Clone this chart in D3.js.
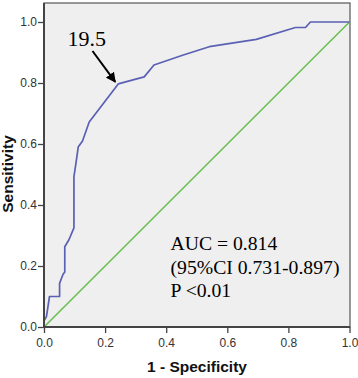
<!DOCTYPE html>
<html><head><meta charset="utf-8">
<script src="https://cdn.jsdelivr.net/npm/d3@7"></script>
<style>html,body{margin:0;padding:0;background:#fff;}svg{display:block;}</style>
</head><body>
<script>
// ROC curve vertices (1 - specificity, sensitivity)
const fpr = [0, 0, 0.008, 0.018, 0.051, 0.051, 0.062, 0.068, 0.068, 0.082, 0.098, 0.098, 0.105, 0.112, 0.126, 0.148, 0.243, 0.328, 0.36, 0.456, 0.541, 0.695, 0.823, 0.856, 0.872, 1.0];
const tpr = [0, 0.02, 0.034, 0.10, 0.10, 0.143, 0.172, 0.18, 0.263, 0.287, 0.325, 0.493, 0.54, 0.59, 0.61, 0.672, 0.797, 0.82, 0.859, 0.892, 0.919, 0.943, 0.982, 0.982, 1.0, 1.0];
const refX = [0, 1];
const refY = [0, 1];
const tickVals = [0, 0.2, 0.4, 0.6, 0.8, 1.0];
const cutoffLabel = "19.5";
const cutoffPoint = [0.243, 0.797];
const statLines = ["AUC = 0.814", "(95%CI 0.731-0.897)", "P <0.01"];

const W = 358, H = 378;
const svg = d3.select("body").append("svg").attr("width", W).attr("height", H);

const x = d3.scaleLinear().domain([0, 1]).range([44, 349.5]);
const y = d3.scaleLinear().domain([0, 1]).range([327, 22]);

// plot background + frame
svg.append("rect").attr("x", 44).attr("y", 3).attr("width", 306).attr("height", 324)
  .attr("fill", "#efefef").attr("stroke", "#555").attr("stroke-width", 1.2);

// diagonal
svg.append("path").datum(d3.zip(refX, refY))
  .attr("d", d3.line().x(d => x(d[0])).y(d => y(d[1])))
  .attr("fill", "none").attr("stroke", "#6dbf52").attr("stroke-width", 1.6);

// ROC curve
svg.append("path").datum(d3.zip(fpr, tpr))
  .attr("d", d3.line().x(d => x(d[0])).y(d => y(d[1])))
  .attr("fill", "none").attr("stroke", "#5a60b4").attr("stroke-width", 1.7)
  .attr("stroke-linejoin", "round");

// axes
const xAxis = d3.axisBottom(x).tickValues(tickVals).tickFormat(d3.format(".1f")).tickSize(6).tickSizeOuter(0);
const yAxis = d3.axisLeft(y).tickValues(tickVals).tickFormat(d3.format(".1f")).tickSize(6).tickSizeOuter(0);
const gx = svg.append("g").attr("transform", "translate(0,327)").call(xAxis);
const gy = svg.append("g").attr("transform", "translate(44,0)").call(yAxis);
[gx, gy].forEach(g => {
  g.select(".domain").remove();
  g.selectAll(".tick line").attr("stroke", "#444").attr("stroke-width", 1.3);
  g.selectAll(".tick text").attr("font-family", "Arial, 'Liberation Sans', sans-serif")
    .attr("font-size", 12).attr("fill", "#333");
});
gx.selectAll(".tick text").attr("dy", "0.9em");
gy.selectAll(".tick text").attr("x", -7);
// axis lines
svg.append("line").attr("x1", 44).attr("x2", 44).attr("y1", 3).attr("y2", 327).attr("stroke", "#444").attr("stroke-width", 2);
svg.append("line").attr("x1", 44).attr("x2", 350).attr("y1", 327).attr("y2", 327).attr("stroke", "#444").attr("stroke-width", 2);

// axis titles
svg.append("text").attr("x", 197).attr("y", 372).attr("text-anchor", "middle")
  .attr("font-family", "Arial, 'Liberation Sans', sans-serif").attr("font-weight", "bold")
  .attr("font-size", 15.5).attr("fill", "#111").text("1 - Specificity");
svg.append("text").attr("transform", "translate(13,174) rotate(-90)").attr("text-anchor", "middle")
  .attr("font-family", "Arial, 'Liberation Sans', sans-serif").attr("font-weight", "bold")
  .attr("font-size", 15.5).attr("fill", "#111").text("Sensitivity");

// cutoff annotation
svg.append("defs").append("marker").attr("id", "ah").attr("viewBox", "0 0 10 10")
  .attr("refX", 9).attr("refY", 5).attr("markerWidth", 5).attr("markerHeight", 5)
  .attr("orient", "auto").attr("markerUnits", "strokeWidth")
  .append("path").attr("d", "M0,0 L10,5 L0,10 z").attr("fill", "#000");
const tip = [x(cutoffPoint[0]) - 3, y(cutoffPoint[1]) - 2];
svg.append("line").attr("x1", 92.5).attr("y1", 51).attr("x2", tip[0]).attr("y2", tip[1])
  .attr("stroke", "#000").attr("stroke-width", 2).attr("marker-end", "url(#ah)");
svg.append("text").attr("x", 67.5).attr("y", 45.5)
  .attr("font-family", "'Liberation Serif', 'Times New Roman', serif").attr("font-size", 22)
  .attr("fill", "#000").text(cutoffLabel);

// stats text
svg.append("g").selectAll("text").data(statLines).join("text")
  .attr("x", 170.5).attr("y", (d, i) => 250 + i * 23.6)
  .attr("font-family", "'Liberation Serif', 'Times New Roman', serif").attr("font-size", 19.7)
  .attr("fill", "#000").text(d => d);
</script>
</body></html>
